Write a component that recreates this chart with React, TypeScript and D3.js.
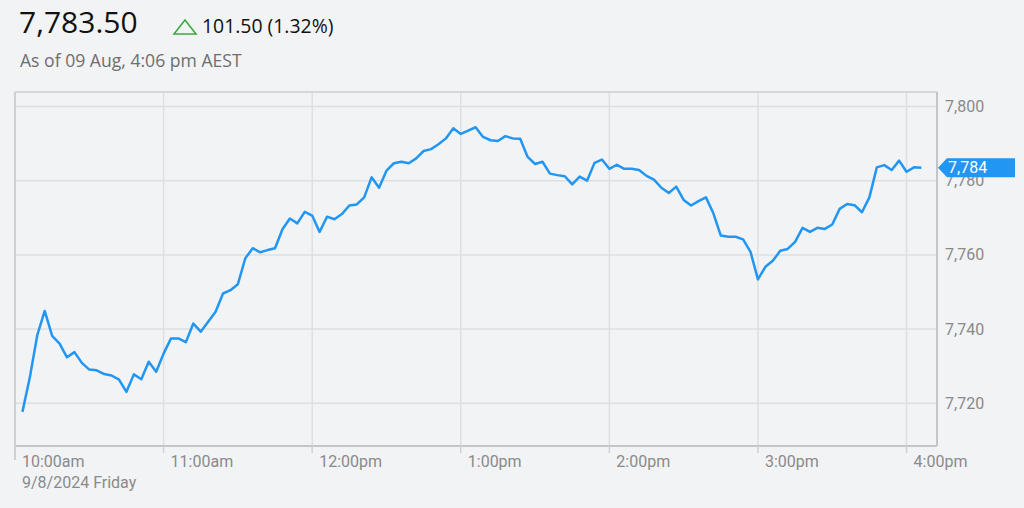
import { useMemo } from "react";
import * as d3 from "d3";

// 3-minute prices from 10:03 to 16:06 AEST, 9 Aug 2024
const prices = [
  7717.7, 7727.0, 7738.4, 7744.9, 7738.2, 7736.1, 7732.4, 7733.8, 7730.9, 7729.1,
  7728.9, 7727.9, 7727.5, 7726.4, 7723.1, 7727.8, 7726.5, 7731.2, 7728.5, 7733.4,
  7737.5, 7737.5, 7736.5, 7741.5, 7739.3, 7742.0, 7744.7, 7749.6, 7750.5, 7752.1,
  7759.1, 7761.8, 7760.7, 7761.3, 7761.8, 7766.9, 7769.8, 7768.5, 7771.6, 7770.6,
  7766.2, 7770.3, 7769.6, 7771.0, 7773.3, 7773.6, 7775.5, 7780.9, 7778.1, 7782.7,
  7784.7, 7785.1, 7784.7, 7786.0, 7788.0, 7788.5, 7789.8, 7791.4, 7794.1, 7792.6,
  7793.5, 7794.4, 7791.8, 7790.9, 7790.7, 7792.0, 7791.4, 7791.3, 7786.4, 7784.5,
  7785.1, 7781.9, 7781.5, 7781.2, 7779.0, 7781.1, 7780.0, 7784.8, 7785.7, 7783.2,
  7784.3, 7783.2, 7783.2, 7782.9, 7781.3, 7780.3, 7778.1, 7776.7, 7778.4, 7774.8,
  7773.3, 7774.5, 7775.5, 7771.2, 7765.2, 7764.9, 7764.9, 7764.2, 7760.8, 7753.4,
  7756.8, 7758.4, 7761.1, 7761.6, 7763.5, 7767.3, 7766.2, 7767.3, 7767.0, 7768.2,
  7772.4, 7773.7, 7773.4, 7771.5, 7775.5, 7783.6, 7784.2, 7782.9, 7785.4, 7782.4,
  7783.6, 7783.5,
];
const firstMinute = 3; // minutes after 10:00
const stepMinutes = 3;

const hourTicks = [0, 60, 120, 180, 240, 300, 360];
const hourLabels = ["10:00am", "11:00am", "12:00pm", "1:00pm", "2:00pm", "3:00pm", "4:00pm"];
const yTicks = [7720, 7740, 7760, 7780, 7800];
const lastLabel = "7,784";

const headline = "7,783.50";
const change = "101.50 (1.32%)";
const asOf = "As of 09 Aug, 4:06 pm AEST";
const dateLabel = "9/8/2024 Friday";

const W = 1024;
const H = 508;
const margin = { top: 92, right: 87, bottom: 62, left: 15 };
const BLUE = "#2196f3";

export default function App() {
  const innerW = W - margin.left - margin.right;
  const innerH = H - margin.top - margin.bottom;

  const x = useMemo(() => d3.scaleLinear().domain([0, 372.3]).range([0, innerW]), [innerW]);
  const y = useMemo(() => d3.scaleLinear().domain([7708.5, 7803.9]).range([innerH, 0]), [innerH]);

  const path = d3
    .line<number>()
    .x((_d, i) => x(firstMinute + i * stepMinutes))
    .y((d) => y(d))(prices);

  const last = prices[prices.length - 1];
  const ly = y(last);

  return (
    <svg
      width={W}
      height={H}
      style={{ position: "absolute", left: 0, top: 0, background: "#f2f3f5" }}
    >
      <rect width={W} height={H} fill="#f2f3f5" />

      {/* header */}
      <g fontFamily="'Open Sans', sans-serif">
        <text x={19} y={33} fontSize={30} fill="#111" fontWeight={500}>
          {headline}
        </text>
        <path d="M174,34 L185,20 L196,34 Z" fill="none" stroke="#3cab3c" strokeWidth={1.6} strokeLinejoin="miter" />
        <text x={202} y={33} fontSize={19.4} fill="#111">
          {change}
        </text>
        <text x={20} y={67} fontSize={17.6} fill="#6e6e6e">
          {asOf}
        </text>
      </g>

      <g transform={`translate(${margin.left},${margin.top})`} fontFamily="Roboto, sans-serif">
        {/* grid */}
        {yTicks.map((t) => (
          <line key={t} x1={0} x2={innerW} y1={y(t)} y2={y(t)} stroke="#dedfe1" strokeWidth={1.5} />
        ))}
        {hourTicks.map((t) => (
          <line key={t} x1={x(t)} x2={x(t)} y1={0} y2={innerH} stroke="#dedfe1" strokeWidth={1.5} />
        ))}

        {/* frame */}
        <line x1={0} x2={innerW} y1={0} y2={0} stroke="#d6d7d9" strokeWidth={2} />
        <line x1={0} x2={0} y1={0} y2={innerH + 14} stroke="#cfd0d2" strokeWidth={2} />
        <line x1={innerW} x2={innerW} y1={0} y2={innerH} stroke="#c4c5c7" strokeWidth={2} />
        <line x1={0} x2={innerW} y1={innerH} y2={innerH} stroke="#c4c5c7" strokeWidth={2} />

        {/* x ticks + labels */}
        {hourTicks.map((t, i) => (
          <g key={t} transform={`translate(${x(t)},0)`}>
            <line y1={innerH} y2={innerH + 7} stroke="#cfd0d2" strokeWidth={1.5} />
            <text x={7} y={innerH + 21} fontSize={16} fill="#8a8a8a">
              {hourLabels[i]}
            </text>
          </g>
        ))}
        <text x={7} y={innerH + 42} fontSize={16} fill="#8a8a8a">
          {dateLabel}
        </text>

        {/* y labels */}
        {yTicks.map((t) => (
          <text key={t} x={innerW + 8} y={y(t)} dy="0.35em" fontSize={16} fill="#8a8a8a">
            {d3.format(",")(t)}
          </text>
        ))}

        {/* price line */}
        <path d={path ?? ""} fill="none" stroke={BLUE} strokeWidth={2.5} strokeLinejoin="round" />

        {/* last value tag */}
        <path
          d={`M${innerW + 1},${ly} L${innerW + 10},${ly - 9.5} L${innerW + 78},${ly - 9.5} L${innerW + 78},${ly + 9.5} L${innerW + 10},${ly + 9.5} Z`}
          fill={BLUE}
        />
        <text x={innerW + 11} y={ly} dy="0.36em" fontSize={16} fill="#fff">
          {lastLabel}
        </text>
      </g>
    </svg>
  );
}
